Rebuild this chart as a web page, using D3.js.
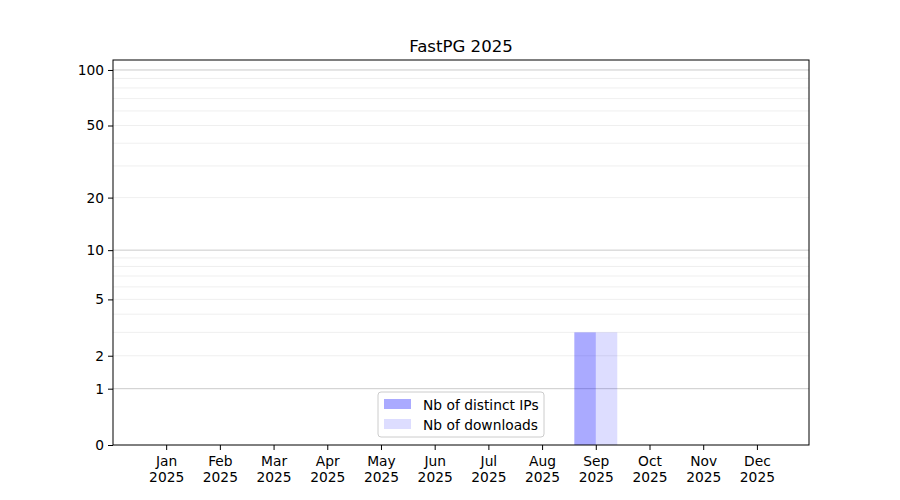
<!DOCTYPE html>
<html><head><meta charset="utf-8">
<script src="https://cdn.jsdelivr.net/npm/d3@7"></script>
<style>body{margin:0;background:#fff}svg{display:block}text{font-family:"DejaVu Sans",sans-serif}</style>
</head><body>
<svg id="c" width="900" height="500"></svg>
<script>
const months = ["Jan","Feb","Mar","Apr","May","Jun","Jul","Aug","Sep","Oct","Nov","Dec"];
const year = "2025";
const distinctIPs = [0,0,0,0,0,0,0,0,3,0,0,0];
const downloads   = [0,0,0,0,0,0,0,0,3,0,0,0];
const yTicks = [0,1,2,5,10,20,50,100];
const majorGrid = [1,10,100];
const minorGrid = [2,3,4,5,6,7,8,9,20,30,40,50,60,70,80,90];
const title = "FastPG 2025";
const seriesNames = ["Nb of distinct IPs","Nb of downloads"];

const svg = d3.select("#c");
const L=113, R=809, T=60, B=445;
const x = d3.scaleLinear().domain([-0.99, 11.97]).range([L, R]);
const y = d3.scaleSymlog().constant(1).domain([0, 113.2]).range([B, T]);
const bw = 0.4;

const g = svg.append("g");
g.selectAll(".mg").data(minorGrid).join("line")
  .attr("x1",L).attr("x2",R).attr("y1",d=>y(d)).attr("y2",d=>y(d))
  .attr("stroke","#ebebeb").attr("stroke-width",0.8);
g.selectAll(".Mg").data(majorGrid).join("line")
  .attr("x1",L).attr("x2",R).attr("y1",d=>y(d)).attr("y2",d=>y(d))
  .attr("stroke","#cbcbcb").attr("stroke-width",1);

g.selectAll(".b1").data(distinctIPs).join("rect")
  .attr("x",(d,i)=>x(i-bw)).attr("width",(d,i)=>x(i)-x(i-bw))
  .attr("y",d=>y(d)).attr("height",d=>B-y(d))
  .attr("fill","blue").attr("fill-opacity",0.333);
g.selectAll(".b2").data(downloads).join("rect")
  .attr("x",(d,i)=>x(i)).attr("width",(d,i)=>x(i+bw)-x(i))
  .attr("y",d=>y(d)).attr("height",d=>B-y(d))
  .attr("fill","blue").attr("fill-opacity",0.133);

svg.append("rect").attr("x",L).attr("y",T).attr("width",R-L).attr("height",B-T)
  .attr("fill","none").attr("stroke","#000").attr("stroke-width",1);

const ya = svg.append("g").attr("transform",`translate(${L},0)`)
  .call(d3.axisLeft(y).tickValues(yTicks).tickFormat(d3.format("d")).tickSize(5).tickPadding(4));
ya.select(".domain").remove();
ya.selectAll("text").attr("font-size",13.8).attr("fill","#000").attr("font-family","DejaVu Sans");

const xa = svg.append("g").attr("transform",`translate(0,${B})`)
  .call(d3.axisBottom(x).tickValues(d3.range(months.length)).tickFormat("").tickSize(5));
xa.select(".domain").remove();
xa.selectAll(".tick").each(function(d){
  const t = d3.select(this).append("text").attr("fill","#000").attr("font-size",13.8)
    .attr("text-anchor","middle").attr("font-family","DejaVu Sans");
  t.append("tspan").attr("x",0).attr("y",21).text(months[d]);
  t.append("tspan").attr("x",0).attr("y",37).text(year);
});

svg.append("text").attr("x",(L+R)/2).attr("y",52).attr("text-anchor","middle")
  .attr("font-size",16.6).attr("fill","#000").text(title);

const lg = svg.append("g").attr("transform","translate(378,392)");
lg.append("rect").attr("width",166).attr("height",45).attr("rx",3)
  .attr("fill","#fff").attr("fill-opacity",0.8).attr("stroke","#cccccc");
const op=[0.333,0.133];
seriesNames.forEach((n,i)=>{
  lg.append("rect").attr("x",6).attr("y",7+i*20).attr("width",27).attr("height",10)
    .attr("fill","blue").attr("fill-opacity",op[i]);
  lg.append("text").attr("x",45).attr("y",17.5+i*20).attr("font-size",13.8).attr("fill","#000").text(n);
});
</script>
</body></html>
